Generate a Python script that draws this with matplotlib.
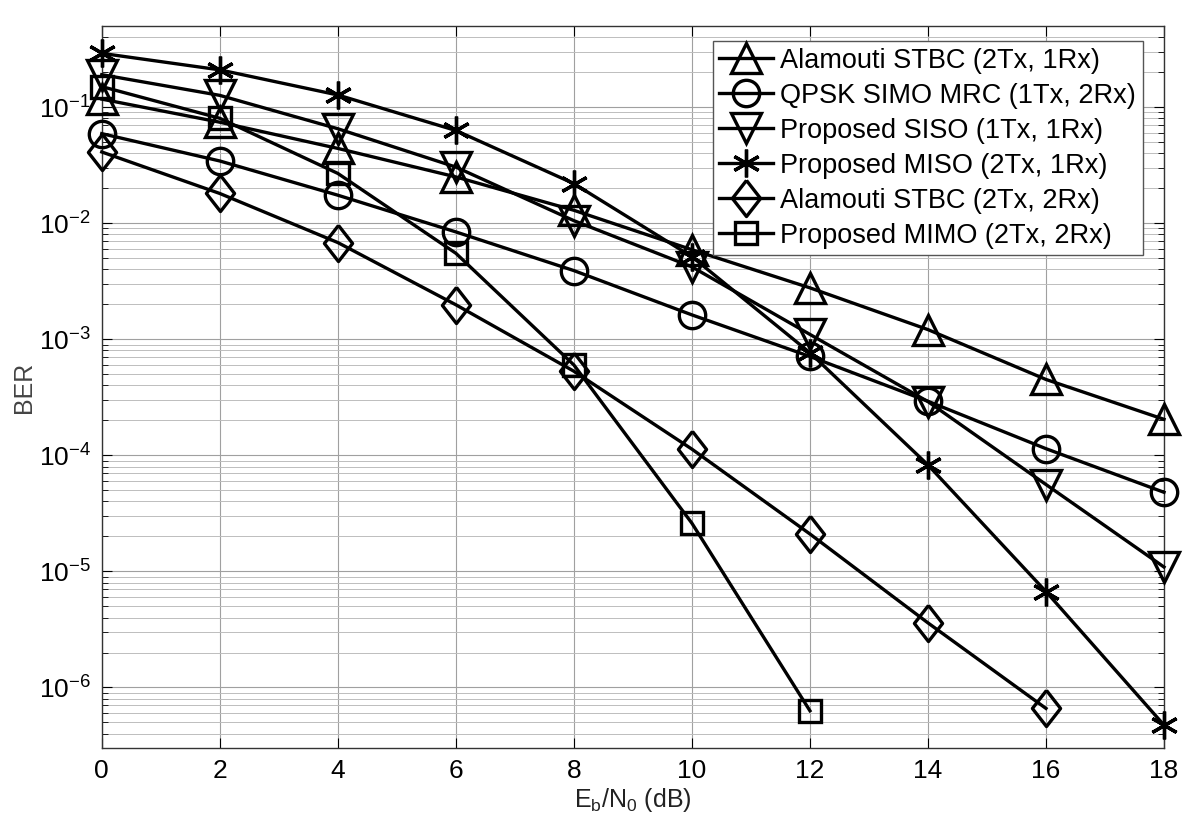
import matplotlib
matplotlib.use('Agg')
import matplotlib.pyplot as plt
import numpy as np
from matplotlib.ticker import FixedLocator, LogLocator, NullFormatter

plt.rcParams['font.family'] = ['Liberation Sans', 'DejaVu Sans']
plt.rcParams['mathtext.default'] = 'regular'

# Eb/N0 in dB
snr = [0, 2, 4, 6, 8, 10, 12, 14, 16, 18]

alamouti_21 = [0.117, 0.074, 0.044, 0.025, 0.0129, 0.0059, 2.77e-3, 1.21e-3, 4.5e-4, 2.04e-4]
simo_mrc = [0.059, 0.0343, 0.0174, 0.0084, 0.0039, 0.00162, 7.1e-4, 2.92e-4, 1.14e-4, 4.8e-5]
prop_siso = [0.19, 0.126, 0.065, 0.0304, 0.0105, 0.0042, 1.1e-3, 2.9e-4, 5.6e-5, 1.09e-5]
prop_miso = [0.29, 0.209, 0.127, 0.0628, 0.0219, 0.00514, 7.65e-4, 8.26e-5, 6.7e-6, 4.74e-7]
alamouti_22 = [0.041, 0.018, 0.0068, 0.00198, 5.3e-4, 1.13e-4, 2.1e-5, 3.6e-6, 6.6e-7]
prop_mimo = [0.15, 0.080, 0.0268, 0.0055, 6.0e-4, 2.6e-5, 6.3e-7]

labels = ['Alamouti STBC (2Tx, 1Rx)', 'QPSK SIMO MRC (1Tx, 2Rx)',
          'Proposed SISO (1Tx, 1Rx)', 'Proposed MISO (2Tx, 1Rx)',
          'Alamouti STBC (2Tx, 2Rx)', 'Proposed MIMO (2Tx, 2Rx)']

decades = [1e-6, 1e-5, 1e-4, 1e-3, 1e-2, 1e-1]

# thin diamond like matlab
diamond = [(0, 1), (0.78, 0), (0, -1), (-0.78, 0), (0, 1)]

series = [
    (alamouti_21, '^', 21),
    (simo_mrc, 'o', 19),
    (prop_siso, 'v', 21),
    (prop_miso, (6, 2, 0), 20),
    (alamouti_22, diamond, 26),
    (prop_mimo, 's', 16),
]

fig = plt.figure(figsize=(12, 8.35), dpi=100)
ax = fig.add_axes([0.0848, 0.104, 0.8852, 0.865])

for (vals, mk, ms), lab in zip(series, labels):
    ax.semilogy(snr[:len(vals)], vals, color='black', lw=2.4, marker=mk,
                markersize=ms, markerfacecolor='none', markeredgecolor='black',
                markeredgewidth=2.4, label=lab, clip_on=False, zorder=3)

ax.set_xlim(0, 18)
ax.set_ylim(3e-7, 0.5)
ax.set_xticks(snr)
ax.yaxis.set_major_locator(FixedLocator(decades))
ax.yaxis.set_minor_locator(LogLocator(base=10, subs=np.arange(2, 10), numticks=100))
ax.yaxis.set_minor_formatter(NullFormatter())
ax.set_yticklabels([r'$10^{%d}$' % int(np.log10(d)) for d in decades])

ax.grid(True, which='major', color='#a0a0a0', lw=0.8)
ax.grid(True, which='minor', axis='y', color='#bdbdbd', lw=0.7)
ax.set_axisbelow(True)

ax.tick_params(which='both', direction='in', top=True, right=True, colors='black')
ax.tick_params(which='major', length=7, labelsize=19, pad=8)
ax.tick_params(which='minor', length=4)
for s in ax.spines.values():
    s.set_linewidth(1.0)
    s.set_color('#333333')

ax.set_xlabel(r'E$_b$/N$_0$ (dB)', fontsize=18, labelpad=2, color='#222222')
ax.set_ylabel('BER', fontsize=18, labelpad=2, color='#444444')

leg = ax.legend(loc='upper right', bbox_to_anchor=(0.980, 0.979), borderaxespad=0,
                fontsize=19.5, fancybox=False, framealpha=1, edgecolor='#555555',
                handlelength=2.0, handletextpad=0.25, labelspacing=0.33,
                borderpad=0.25, markerscale=1.0)
leg.get_frame().set_linewidth(1.0)
leg.set_zorder(5)

fig.savefig('out.png', dpi=100)
